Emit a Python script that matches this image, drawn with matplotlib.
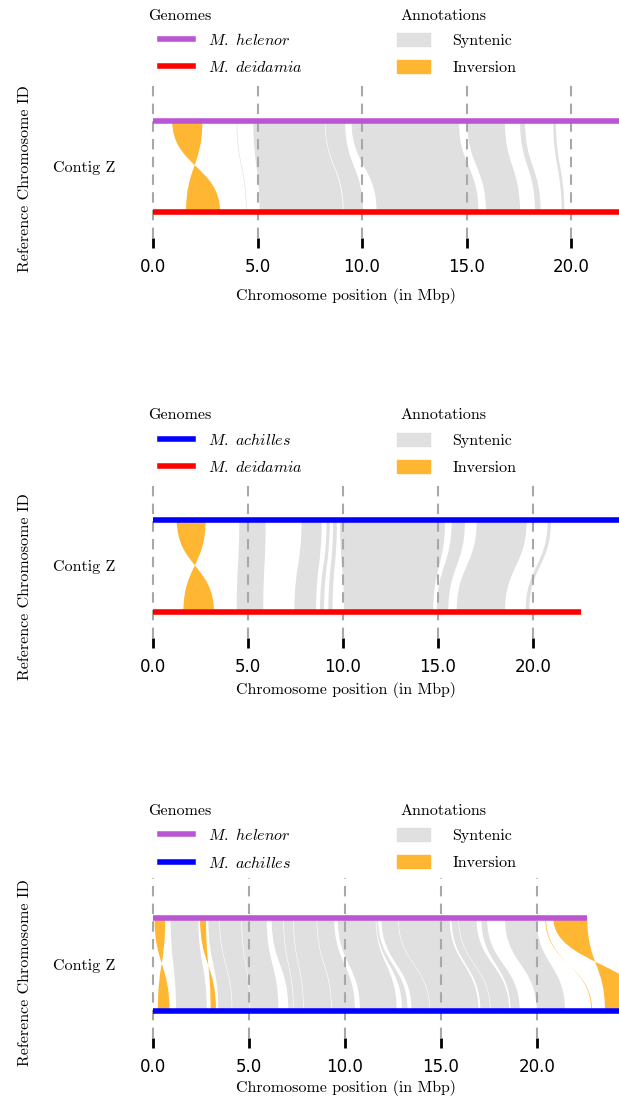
import matplotlib.pyplot as plt
from matplotlib.path import Path
from matplotlib.patches import PathPatch, Patch
from matplotlib.lines import Line2D

plt.rcParams['mathtext.fontset'] = 'cm'

# ---- data (positions in Mbp) ----
# each alignment: (top_start, top_end, bottom_start, bottom_end)
p1_genomes = ['M. helenor', 'M. deidamia']
p1_lengths = [23.5, 23.5]
p1_syn = [(4.0, 4.03, 4.45, 4.48), (4.8, 8.22, 5.1, 9.08), (8.25, 9.19, 9.12, 10.05),
          (9.5, 14.64, 10.7, 15.57), (15.04, 16.84, 15.93, 17.56),
          (17.56, 17.8, 18.28, 18.55), (19.15, 19.28, 19.55, 19.68)]
p1_inv = [(0.92, 2.36, 1.58, 3.21)]

p2_genomes = ['M. achilles', 'M. deidamia']
p2_lengths = [25.0, 22.5]
p2_syn = [(4.54, 5.93, 4.4, 5.8), (7.82, 8.88, 7.44, 8.58), (9.14, 9.3, 8.79, 9.0),
          (9.48, 9.68, 9.23, 9.45), (9.84, 15.37, 10.05, 14.75),
          (15.72, 16.42, 14.93, 15.54), (17.04, 19.67, 15.98, 18.53),
          (20.77, 20.95, 19.61, 19.8)]
p2_inv = [(1.25, 2.77, 1.6, 3.21)]

p3_genomes = ['M. helenor', 'M. achilles']
p3_lengths = [22.6, 25.0]
p3_syn = [(0.92, 2.36, 1.2, 2.8), (2.88, 3.45, 3.4, 4.1), (3.48, 4.6, 4.13, 5.03),
          (4.63, 5.92, 5.06, 6.53), (6.18, 6.78, 7.05, 7.3), (6.81, 7.3, 7.33, 7.82),
          (7.33, 8.52, 7.85, 9.28), (8.55, 9.44, 9.31, 10.52), (9.62, 11.6, 10.78, 12.69),
          (11.63, 11.72, 12.97, 13.26), (11.9, 12.76, 13.47, 14.4),
          (12.79, 15.45, 14.43, 16.95), (15.55, 15.9, 17.05, 17.55),
          (15.93, 16.85, 17.58, 18.55), (17.1, 17.4, 18.62, 19.1),
          (18.33, 19.98, 19.98, 21.46)]
p3_inv = [(0.08, 0.64, 0.25, 0.86), (2.45, 2.76, 3.0, 3.28),
          (20.43, 20.47, 22.83, 22.87), (20.85, 22.62, 23.54, 25.8)]

tick_vals = [0, 5, 10, 15, 20]
tick_labels = ['0.0', '5.0', '10.0', '15.0', '20.0']

SYN_COL = '#e0e0e0'
INV_COL = '#ffb733'
GENOME_COLS = {'M. helenor': '#ba55d3', 'M. deidamia': '#ff0000', 'M. achilles': '#0000ff'}

W, H = 619, 1098
FS = 11.5


def ribbon(ax, a1, a2, b1, b2, color, inverted=False):
    if inverted:
        b1, b2 = b2, b1
    verts = [(a1, 1), (a1, 0.5), (b1, 0.5), (b1, 0), (b2, 0), (b2, 0.5), (a2, 0.5), (a2, 1), (a1, 1)]
    codes = [Path.MOVETO, Path.CURVE4, Path.CURVE4, Path.CURVE4, Path.LINETO,
             Path.CURVE4, Path.CURVE4, Path.CURVE4, Path.CLOSEPOLY]
    ax.add_patch(PathPatch(Path(verts, codes), facecolor=color, edgecolor='none', zorder=1))


def draw_panel(fig, genomes, lengths, syn, inv, off, ax_top, ax_bot, top_px, bot_px, scale):
    unit = bot_px - top_px
    ylo = -(ax_bot - bot_px) / unit
    yhi = 1 + (top_px - ax_top) / unit
    x0 = -0.15
    left = (153 + x0 * scale) / W
    xmax = (W - 153) / scale
    ax = fig.add_axes([left, 1 - ax_bot / H, 1 - left, (ax_bot - ax_top) / H])
    ax.set_xlim(x0, xmax)
    ax.set_ylim(ylo, yhi)

    for s in syn:
        ribbon(ax, *s, SYN_COL)
    for s in inv:
        ribbon(ax, *s, INV_COL, inverted=True)

    ax.plot([0, lengths[0]], [1, 1], color=GENOME_COLS[genomes[0]], lw=4, solid_capstyle='butt', zorder=3)
    ax.plot([0, lengths[1]], [0, 0], color=GENOME_COLS[genomes[1]], lw=4, solid_capstyle='butt', zorder=3)

    for sp in ax.spines.values():
        sp.set_visible(False)
    ax.set_xticks(tick_vals)
    ax.set_xticklabels(tick_labels)
    ax.tick_params(axis='x', direction='out', length=7.5, width=2, labelsize=12, pad=7)
    ax.set_yticks([0.5])
    ax.set_yticklabels(['Contig Z'], fontfamily='cmr10', fontsize=FS)
    ax.tick_params(axis='y', length=0, pad=25)
    ax.grid(axis='x', linestyle='--', color='#a8a8a8', lw=1.5, dashes=(5, 3.5))
    ax.set_axisbelow('line')

    ax.set_xlabel('Chromosome position (in Mbp)', fontfamily='cmr10', fontsize=FS)
    ax.xaxis.set_label_coords(346 / W, 1 - off[2] / H, transform=fig.transFigure)
    ax.xaxis.label.set_va('center')
    ax.set_ylabel('Reference Chromosome ID', fontfamily='cmr10', fontsize=FS)
    ax.yaxis.set_label_coords(25 / W, 1 - off[3] / H, transform=fig.transFigure)
    ax.yaxis.label.set_va('center')

    # legends
    fig.text(148 / W, 1 - off[0] / H, 'Genomes', family='cmr10', fontsize=FS, va='center')
    fig.text(400 / W, 1 - off[0] / H, 'Annotations', family='cmr10', fontsize=FS, va='center')
    g_handles = [Line2D([], [], color=GENOME_COLS[g], lw=4) for g in genomes]
    g_labels = [r'$\mathit{' + g.replace(' ', r'\ ') + '}$' for g in genomes]
    fig.legend(g_handles, g_labels, loc='upper left', bbox_to_anchor=(160 / W, 1 - (off[1] + 1) / H),
               bbox_transform=fig.transFigure, frameon=False, fontsize=FS, handlelength=2.05,
               handletextpad=0.95, labelspacing=0.72, borderpad=0, borderaxespad=0)
    a_handles = [Patch(color=SYN_COL), Patch(color=INV_COL)]
    fig.legend(a_handles, ['Syntenic', 'Inversion'], loc='upper left',
               bbox_to_anchor=(397 / W, 1 - (off[1] + 2) / H), bbox_transform=fig.transFigure,
               frameon=False, prop={'family': 'cmr10', 'size': FS}, handlelength=2.05,
               handleheight=0.9, handletextpad=1.4, labelspacing=0.75, borderpad=0, borderaxespad=0)
    return ax


fig = plt.figure(figsize=(W / 100, H / 100), dpi=100)

# off = (legend title y, legend top y, xlabel y, ylabel y) in pixels
draw_panel(fig, p1_genomes, p1_lengths, p1_syn, p1_inv, (16, 31, 296, 179), 82, 238, 121, 212, 20.9)
draw_panel(fig, p2_genomes, p2_lengths, p2_syn, p2_inv, (415, 431, 690, 587), 482, 638, 520, 612, 19.0)
draw_panel(fig, p3_genomes, p3_lengths, p3_syn, p3_inv, (811, 826, 1088, 973), 878, 1038, 918, 1011, 19.2)

fig.savefig('out.png', dpi=100)
